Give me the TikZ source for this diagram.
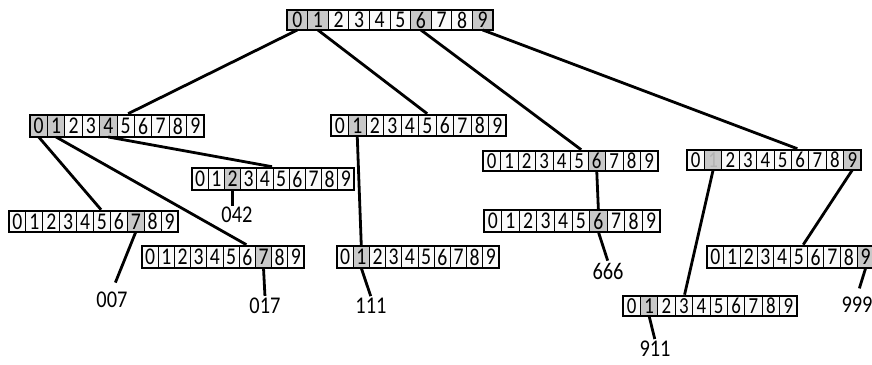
\documentclass[tikz,border=0pt]{standalone}
\usepackage{fontspec}
\setmainfont{Carlito}
\usetikzlibrary{calc,fit}
\definecolor{shade}{RGB}{200,200,200}
\definecolor{cellbg}{RGB}{250,250,250}
\tikzset{
  cell/.style={draw=black, line width=1pt, inner sep=0pt, outer sep=0pt, anchor=center},
  frame/.style={draw=black, line width=2.6pt, inner sep=0pt},
  conn/.style={line width=2.8pt, draw=black},
  lab/.style={inner sep=1pt, font=\fontsize{24}{24}\selectfont},
}
\newcommand\hsq[1]{\scalebox{0.85}[1]{#1}}
\newcommand\digarr[7]{%
  \foreach \i in {0,...,9} {
    \pgfmathtruncatemacro\f{{#6}[\i]}
    \ifnum\f=0 \def\fc{cellbg}\def\tc{black}\else\def\fc{shade}\ifnum\f=2 \def\tc{gray!60}\else\def\tc{black}\fi\fi
    \node[cell, fill=\fc, text=\tc, minimum width=#4pt, minimum height=#5pt,
          font=\fontsize{#7}{#7}\selectfont] (#1-\i) at ({#2+#4*(\i+0.5)},{#3+#5/2}) {\scalebox{0.82}[1]{\i}};
  }
  \node[frame, fit=(#1-0)(#1-9)] (#1) {};
}
\begin{document}
\begin{tikzpicture}[x=1pt,y=-1pt]
\fill[white] (0,0) rectangle (872,364);
\useasboundingbox (0,0) rectangle (872,364);

\digarr{R}{287}{10}{20.6}{20}{1,1,0,0,0,0,1,0,0,1}{24}
\digarr{A}{30}{115}{17.4}{22}{1,1,0,0,1,0,0,0,0,0}{24}
\digarr{B}{331}{115}{17.5}{21}{0,1,0,0,0,0,0,0,0,0}{24}
\digarr{C}{483}{151}{17.5}{20}{0,0,0,0,0,0,1,0,0,0}{23}
\digarr{D}{687}{150}{17.4}{20}{0,2,0,0,0,0,0,0,0,1}{23}
\digarr{E}{192}{168}{16.2}{22}{0,0,1,0,0,0,0,0,0,0}{24}
\digarr{F}{9}{211}{16.9}{21}{0,0,0,0,0,0,0,1,0,0}{24}
\digarr{G}{142}{246}{16.2}{22}{0,0,0,0,0,0,0,1,0,0}{24}
\digarr{H}{337}{246}{16.2}{22}{0,1,0,0,0,0,0,0,0,0}{24}
\digarr{I}{484}{210}{17.6}{22}{0,0,0,0,0,0,1,0,0,0}{24}
\digarr{J}{707}{246}{16.7}{22}{0,0,0,0,0,0,0,0,0,1}{24}
\digarr{K}{623}{296}{17.4}{20}{0,1,0,0,0,0,0,0,0,0}{23}

\node[lab] (l042) at (237,215) {\hsq{042}};
\node[lab] (l007) at (112,300) {\hsq{007}};
\node[lab] (l017) at (265,306) {\hsq{017}};
\node[lab] (l111) at (371,306) {\hsq{111}};
\node[lab] (l666) at (608,271) {\hsq{666}};
\node[lab] (l911) at (655,349) {\hsq{911}};
\node[lab] (l999) at (857,305) {\hsq{999}};

\draw[conn] (R-0.south) -- ($(A.north west)!0.563!(A.north east)$);
\draw[conn] (R-1.south) -- ($(B.north west)!0.549!(B.north east)$);
\draw[conn] (R-6.south) -- ($(C.north west)!0.56!(C.north east)$);
\draw[conn] (R-9.south) -- ($(D.north west)!0.632!(D.north east)$);
\draw[conn] (A-0.south) -- ($(F.north west)!0.544!(F.north east)$);
\draw[conn] (A-1.south) -- ($(G.north west)!0.642!(G.north east)$);
\draw[conn] (A-4.south) -- ($(E.north west)!0.494!(E.north east)$);
\draw[conn] (B-1.south) -- (H-1.north);
\draw[conn] (C-6.south) -- (I-6.north);
\draw[conn] (D-1.south) -- ($(K.north west)!0.356!(K.north east)$);
\draw[conn] (D-9.south) -- ($(J.north west)!0.575!(J.north east)$);

\draw[conn] (E-2.south) -- (E-2.south |- l042.north);
\draw[conn, shorten >=9pt] (F-7.south) -- (l007.north);
\draw[conn, shorten >=1pt] (G-7.south) -- (l017.north);
\draw[conn, shorten >=1pt] (H-1.south) -- (l111.north);
\draw[conn, shorten >=1pt] (I-6.south) -- (l666.north);
\draw[conn, shorten >=1pt] (K-1.south) -- (l911.north);
\draw[conn, shorten >=8pt] (J-9.south) -- (l999.north);
\end{tikzpicture}
\end{document}
